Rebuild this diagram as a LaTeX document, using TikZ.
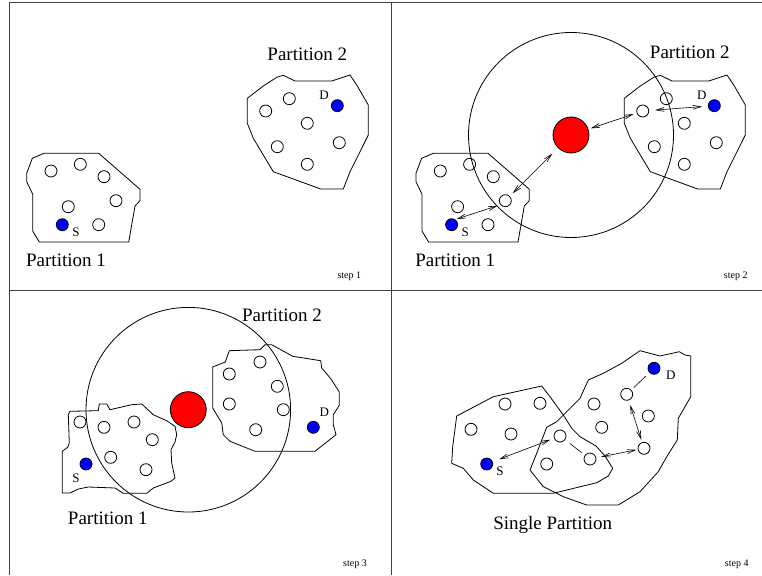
\documentclass[tikz,border=0pt]{standalone}
\usepackage{fontspec}
\setmainfont{Liberation Serif}
\usetikzlibrary{arrows.meta}
\begin{document}
\begin{tikzpicture}[x=1pt,y=-1pt,
  pnode/.style={circle,draw,minimum size=12pt,inner sep=0pt,line width=0.8pt},
  endnode/.style={pnode,fill=blue},
  hub/.style={circle,draw,fill=red,minimum size=36pt,inner sep=0pt,line width=0.8pt},
  partpoly/.style={draw,line width=0.8pt,line join=round},
  rangecircle/.style={draw,line width=0.8pt},
  frameline/.style={draw=black!75,line width=1pt},
  plabel/.style={font=\fontsize{19}{22}\selectfont,inner sep=0pt},
  steplabel/.style={font=\fontsize{10}{12}\selectfont,inner sep=0pt},
  sdlabel/.style={font=\fontsize{13}{15}\selectfont,inner sep=0pt},
  link/.style={line width=0.6pt,{Straight Barb[length=8pt,width=4pt]}-{Straight Barb[length=8pt,width=4pt]}},
  hop/.style={line width=0.6pt},
]
\useasboundingbox (0,0) rectangle (762,575);

% frame
\draw[frameline] (9,2.7) -- (762,2.7);
\draw[frameline] (9,2.7) -- (9,575);
\draw[frameline] (391.7,2.7) -- (391.7,575);
\draw[frameline] (9,290.7) -- (762,290.7);

% ---------------- step 1 ----------------
\draw[partpoly] (32.3,158.3) -- (44,153.3) -- (98.7,153.3) -- (140,189.3) -- (140,200.7) -- (135,206) -- (128.7,242) -- (39.3,242) -- (32.7,231) -- (32.7,194.3) -- (26.7,181.7) -- (26.7,173.3) -- cycle;
\draw[partpoly] (247.3,98.3) -- (263.3,86) -- (276.7,77.3) -- (283.3,75.3) -- (295,81) -- (331.7,81) -- (350,75) -- (356.7,85) -- (368.3,105) -- (368.3,135) -- (350,171.7) -- (343.3,189) -- (320.7,189) -- (273.3,171.7) -- (253.3,138.3) -- (247.3,123.3) -- cycle;
\node[pnode] (a1) at (51,171) {};
\node[pnode] (a2) at (80.3,164.3) {};
\node[pnode] (a3) at (104,176.7) {};
\node[pnode] (a4) at (116,200.7) {};
\node[pnode] (a5) at (68.3,206.7) {};
\node[pnode] (a6) at (98.7,224.7) {};
\node[endnode] (sA) at (62.3,224.7) {};
\node[sdlabel] (sAl) at (76,232.3) {S};
\node[pnode] (b1) at (265.7,111) {};
\node[pnode] (b2) at (289.3,98.7) {};
\node[pnode] (b3) at (307.3,123.3) {};
\node[pnode] (b4) at (277.3,146.7) {};
\node[pnode] (b5) at (307.3,164.3) {};
\node[pnode] (b6) at (339.3,142.7) {};
\node[endnode] (dA) at (337.3,105.7) {};
\node[sdlabel] (dAl) at (324,95.3) {D};
\node[plabel] (p1A) at (66,260.7) {Partition 1};
\node[plabel] (p2A) at (307.3,54.3) {Partition 2};
\node[steplabel] (st1) at (349.3,276.7) {step 1};

% ---------------- step 2 ----------------
\begin{scope}[shift={(389.3,0)}]
\draw[partpoly] (32.3,158.3) -- (44,153.3) -- (98.7,153.3) -- (140,189.3) -- (140,200.7) -- (135,206) -- (128.7,242) -- (39.3,242) -- (32.7,231) -- (32.7,194.3) -- (26.7,181.7) -- (26.7,173.3) -- cycle;
\node[pnode] (c1) at (51,171) {};
\node[pnode] (c2) at (80.3,164.3) {};
\node[pnode] (c3) at (104,176.7) {};
\node[pnode] (c4) at (116,200.7) {};
\node[pnode] (c5) at (68.3,206.7) {};
\node[pnode] (c6) at (98.7,224.7) {};
\node[endnode] (sB) at (62.3,224.7) {};
\node[sdlabel] (sBl) at (76,232.3) {S};
\end{scope}
\begin{scope}[shift={(377,0)}]
\draw[partpoly] (247.3,98.3) -- (263.3,86) -- (276.7,77.3) -- (283.3,75.3) -- (295,81) -- (331.7,81) -- (350,75) -- (356.7,85) -- (368.3,105) -- (368.3,135) -- (350,171.7) -- (343.3,189) -- (320.7,189) -- (273.3,171.7) -- (253.3,138.3) -- (247.3,123.3) -- cycle;
\node[pnode] (e1) at (265.7,111) {};
\node[pnode] (e2) at (289.3,98.7) {};
\node[pnode] (e3) at (307.3,123.3) {};
\node[pnode] (e4) at (277.3,146.7) {};
\node[pnode] (e5) at (307.3,164.3) {};
\node[pnode] (e6) at (339.3,142.7) {};
\node[endnode] (dB) at (337.3,105.7) {};
\node[sdlabel] (dBl) at (324.7,95.3) {D};
\end{scope}
\node[hub] (hB) at (571,135) {};
\draw[rangecircle] (hB.center) circle[radius=102.5];
\draw[link,shorten <=1.5pt,shorten >=3pt] (sB.55) -- (c4.220);
\draw[link,shorten <=4pt,shorten >=8pt] (c4) -- (hB);
\draw[link,shorten <=2.5pt,shorten >=3.5pt] (hB) -- (e1);
\draw[link,shorten <=6pt,shorten >=6pt] (e1) -- (dB);
\node[plabel] (p1B) at (455.2,260.7) {Partition 1};
\node[plabel] (p2B) at (689.8,52.3) {Partition 2};
\node[steplabel] (st2) at (735.7,276.7) {step 2};

% ---------------- step 3 ----------------
\draw[partpoly] (70,411.3) -- (98.3,410.7) -- (99.3,404) -- (106.7,404) -- (110,409.7) -- (131.7,404.7) -- (141.7,404) -- (153.3,414.7) -- (166.7,420.7) -- (175,426.3) -- (176.7,434.7) -- (175,442) -- (171,449.7) -- (171.7,463) -- (175,478) -- (171,481.3) -- (153.3,488) -- (146.7,493.3) -- (123.3,493.3) -- (115,488) -- (88.3,487) -- (78.3,489) -- (70,493) -- (62.3,493) -- (62.3,451.3) -- (67.7,447.3) -- (69.3,443) -- (68.3,414.7) -- cycle;
\draw[partpoly] (212.7,367) -- (225.3,362) -- (229.3,350.7) -- (260,349.7) -- (265,344.7) -- (271.7,344.7) -- (292.7,356.3) -- (320.7,360.7) -- (321.7,368) -- (331,379) -- (339.3,392) -- (339.3,405.3) -- (333.3,414.7) -- (333.3,424.7) -- (336,434.7) -- (315,451.3) -- (255,451.3) -- (230,441.3) -- (223.3,434.7) -- (221.7,423) -- (212.7,408) -- (212.7,388) -- cycle;
\node[pnode] (f1) at (80,422) {};
\node[pnode] (f2) at (104,427.3) {};
\node[pnode] (f3) at (134,422) {};
\node[pnode] (f4) at (152.3,439.7) {};
\node[pnode] (f5) at (110.7,457.3) {};
\node[pnode] (f6) at (146,469.7) {};
\node[endnode] (sC) at (86,464) {};
\node[sdlabel] (sCl) at (76,478.7) {S};
\node[pnode] (g1) at (229.3,374) {};
\node[pnode] (g2) at (260,362) {};
\node[pnode] (g3) at (277.3,386.3) {};
\node[pnode] (g4) at (229.3,404) {};
\node[pnode] (g5) at (283.3,409.7) {};
\node[pnode] (g6) at (255.7,429.7) {};
\node[endnode] (dC) at (313.3,427.3) {};
\node[sdlabel] (dCl) at (324.3,412) {D};
\node[hub] (hC) at (188.3,409.7) {};
\draw[rangecircle] (hC.center) circle[radius=102.3];
\node[plabel] (p1C) at (107.8,518) {Partition 1};
\node[plabel] (p2C) at (282,315.7) {Partition 2};
\node[steplabel] (st3) at (355,564.7) {step 3};

% ---------------- step 4 ----------------
\draw[partpoly] (456.7,416) -- (493.3,396.7) -- (541.7,386) -- (550,396.7) -- (563.3,415) -- (571.7,428.3) -- (580,436.7) -- (596,446) -- (605,456) -- (612.7,468.3) -- (608.3,476) -- (596.7,482.7) -- (553.3,493.3) -- (493.3,493.3) -- (473.3,480) -- (463.3,468.3) -- (451.7,463.3) -- (452.7,446.7) -- cycle;
\draw[partpoly] (530,470) -- (536.7,453.3) -- (546.7,427.3) -- (556.7,421.7) -- (566.7,411.7) -- (580,398.3) -- (588.3,380) -- (603.3,373.3) -- (621.7,363.3) -- (640,350.7) -- (660,356) -- (679.3,351.7) -- (685,355) -- (690.7,356) -- (690.7,396.7) -- (685,406.7) -- (678.3,418.3) -- (677.3,440) -- (666.7,456.7) -- (658.3,471.7) -- (640,491.7) -- (618.3,505) -- (586.7,505) -- (563.3,496.7) -- (543.3,486.7) -- cycle;
\node[pnode] (k1) at (471,429.3) {};
\node[pnode] (k2) at (505,404) {};
\node[pnode] (k3) at (540,403.3) {};
\node[pnode] (k4) at (511,434) {};
\node[pnode] (k5) at (546.7,464) {};
\node[pnode] (k6) at (560,436) {};
\node[pnode] (k7) at (590,459) {};
\node[pnode] (k8) at (594,404) {};
\node[pnode] (k9) at (601.7,427.3) {};
\node[pnode] (k10) at (626.7,394.3) {};
\node[pnode] (k11) at (648.3,416) {};
\node[pnode] (k12) at (644,448.3) {};
\node[endnode] (sD) at (486.7,464) {};
\node[endnode] (dD) at (654,368.3) {};
\node[sdlabel] (sDl) at (500,471.7) {S};
\node[sdlabel] (dDl) at (670.7,375.7) {D};
\draw[link,shorten <=7pt,shorten >=4pt] (sD) -- (k6);
\draw[hop,shorten <=6pt,shorten >=4pt] (k6) -- (k7);
\draw[link,shorten <=5pt,shorten >=1.5pt] (k7) -- (k12);
\draw[link,shorten <=2.5pt,shorten >=5pt] (k12) -- (k10);
\draw[hop,shorten <=3.5pt,shorten >=5pt] (k10) -- (dD);
\node[plabel] (p4) at (552.7,525.3) {Single Partition};
\node[steplabel] (st4) at (736.7,564.7) {step 4};
\end{tikzpicture}
\end{document}
